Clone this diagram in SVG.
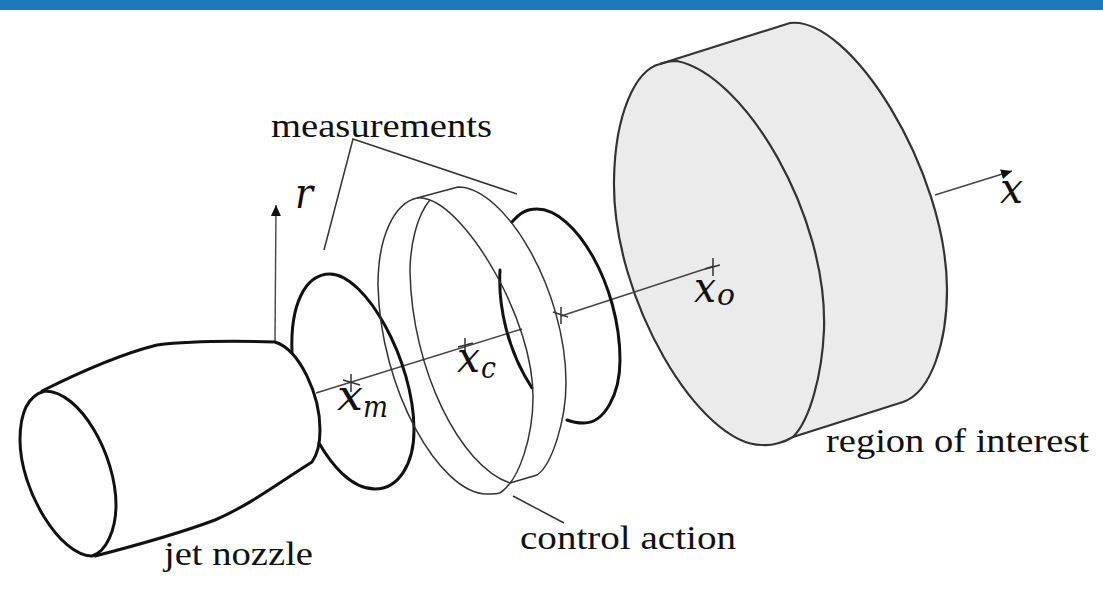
<svg xmlns="http://www.w3.org/2000/svg" width="1103" height="595" viewBox="0 0 1103 595">
<defs>
<style>
.thick{fill:none;stroke:#111;stroke-width:3;stroke-linecap:round;stroke-linejoin:round}
.mid{fill:none;stroke:#333;stroke-width:2.2}
.thin{fill:none;stroke:#333;stroke-width:1.5}
.ax{fill:none;stroke:#444;stroke-width:1.4}
text{font-family:"Liberation Serif",serif;fill:#111}
.lab{font-size:33px}
.m{font-family:"DejaVu Serif",serif;font-size:42px;font-style:italic}
.s{font-family:"DejaVu Serif",serif;font-size:29px;font-style:italic}
</style>
<marker id="arrow" markerUnits="userSpaceOnUse" markerWidth="14" markerHeight="12" refX="11" refY="5" orient="auto"><path d="M0,0 L11,5 L0,10 Z" fill="#111"/></marker>
</defs>
<rect id="top-bar" x="0" y="0" width="1103" height="10" fill="#1c78b8"/>
<g id="region-of-interest">
<path d="M660,64 L790,23 C850,16 947,170 947,290 C947,340 932,392 903,402 L793,437 C785,442 772,446 762,445 C700,445 612,300 614,180 C615,115 635,70 660,64 Z" fill="#ebebeb" stroke="#333" stroke-width="2.2" stroke-linejoin="round"/>
<path class="mid" d="M660,64 C665,62 671,61 677,61 C745,75 828,215 824,330 C822,375 810,420 793,437"/>
<text class="lab" x="826" y="452" textLength="263" lengthAdjust="spacingAndGlyphs">region of interest</text>
</g>
<g id="connectors">
<path class="ax" d="M316,393 L522,329"/>
<path class="ax" d="M561,316 L714,266"/>
<path class="ax" d="M935,195 L1012,171" marker-end="url(#arrow)"/>
<path class="ax" d="M275,342 L276,205" marker-end="url(#arrow)"/>
<path class="thin" d="M324,250 L353,139 L517,194"/>
<path class="thin" d="M513,496 L564,523"/>
<path class="thin" d="M351,374 V392 M343,380 L360,385 M465,338 V352 M458,347 L473,343 M561,307 V324 M553,312 L568,317 M713,258 V276 M705,269 L720,265"/>
</g>
<g id="measurement-plane-m">
<path class="thick" d="M292,353 C290,305 305,274 330,274 C365,274 414,360 414,430 C414,465 398,489 375,489 C350,489 330,462 319,443"/>
</g>
<g id="measurement-plane-o">
<path class="thick" d="M512,222 C520,213 526,209 537,209 C575,209 620,285 620,360 C620,395 604,423 584,423 C577,423 572,422 567,420"/>
<path class="thick" d="M500,270 C498,305 507,350 532,388"/>
</g>
<g id="actuator-ring">
<path class="thin" d="M417,198 L458,187 C505,187 566,290 566,383 C566,420 552,465 537,475 L510,483"/>
<path class="thin" d="M430,200 C424,198 420,197 417,198 C395,203 378,235 378,285 C380,390 440,494 487,494 C492,494 496,494 500,493"/>
<path class="thin" d="M430,200 C417,215 410,245 410,272 C412,370 460,466 510,483"/>
<path class="thin" d="M430,200 C470,215 533,320 533,397 C533,435 520,480 500,493"/>
</g>
<g id="jet-nozzle">
<path class="thick" d="M42,391 C80,372 125,353 157,345 C190,341 240,341 275,342 C300,350 320,395 320,430 C320,445 317,455 312,462 C280,482 250,505 215,520 C175,535 130,547 95,556"/>
<path class="thick" d="M45,391 C80,391 116,455 116,505 C116,530 106,552 92,556 C60,556 20,490 20,440 C20,410 30,395 45,391 Z"/>
<text class="lab" x="164" y="565" textLength="149" lengthAdjust="spacingAndGlyphs">jet nozzle</text>
</g>
<g id="labels">
<text class="lab" x="271" y="137" textLength="221" lengthAdjust="spacingAndGlyphs">measurements</text>
<text class="lab" x="520" y="549" textLength="216" lengthAdjust="spacingAndGlyphs">control action</text>
<text class="m" x="295" y="208" textLength="18" lengthAdjust="spacingAndGlyphs">r</text>
<text class="m" x="1000" y="203" textLength="23" lengthAdjust="spacingAndGlyphs">x</text>
<text class="m" x="337" y="410" textLength="26" lengthAdjust="spacingAndGlyphs">x</text>
<text class="s" x="363" y="417" textLength="25" lengthAdjust="spacingAndGlyphs">m</text>
<text class="m" x="457" y="372" textLength="23" lengthAdjust="spacingAndGlyphs">x</text>
<text class="s" x="481" y="378" textLength="15" lengthAdjust="spacingAndGlyphs">c</text>
<text class="m" x="694" y="302" textLength="22" lengthAdjust="spacingAndGlyphs">x</text>
<text class="s" x="717" y="305" textLength="18" lengthAdjust="spacingAndGlyphs">o</text>
</g>
</svg>
